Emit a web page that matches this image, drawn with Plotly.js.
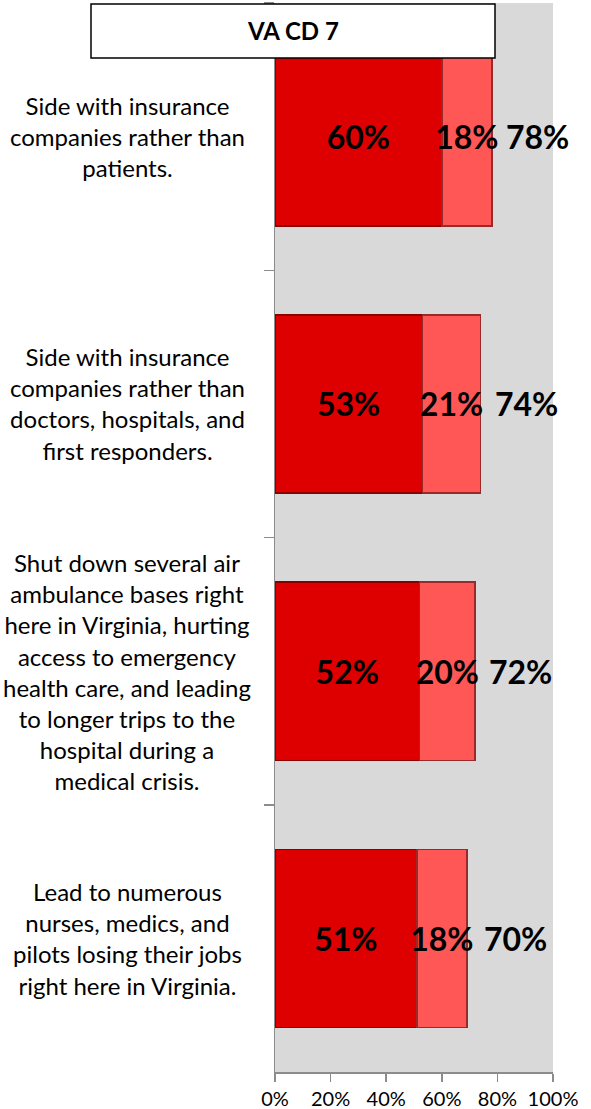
<!DOCTYPE html>
<html><head><meta charset="utf-8">
<script src="https://cdn.plot.ly/plotly-3.0.1.min.js"></script>
<style>html,body{margin:0;padding:0;background:#fff;overflow:hidden}#chart{width:591px;height:1109px}</style>
</head><body><div id="chart"></div>
<script>
const categories = [
  "Side with insurance<br>companies rather than<br>patients.",
  "Side with insurance<br>companies rather than<br>doctors, hospitals, and<br>first responders.",
  "Shut down several air<br>ambulance bases right<br>here in Virginia, hurting<br>access to emergency<br>health care, and leading<br>to longer trips to the<br>hospital during a<br>medical crisis.",
  "Lead to numerous<br>nurses, medics, and<br>pilots losing their jobs<br>right here in Virginia."
];
const strongly = [60, 53, 52, 51];
const somewhat = [18, 21, 20, 18];
const totals = [78, 74, 72, 70];
const xTickVals = [0, 20, 40, 60, 80, 100];
const chartTitle = "VA CD 7";

const FONT = "Lato, 'Open Sans', sans-serif";
const W = 591, H = 1109;
const M = {l: 275, r: 38, t: 3, b: 37};
const pw = W - M.l - M.r, ph = H - M.t - M.b;
const px2x = p => (p - M.l) / pw;
const py2y = p => (H - M.b - p) / ph;

const labelFont = {family: FONT, size: 32, color: '#000', weight: 'bold'};

const traces = [
  {
    type: 'bar', orientation: 'h', y: categories, x: strongly,
    marker: {color: '#DE0000', line: {color: '#8A0000', width: 1.5}},
    text: strongly.map(v => v + '%'), textposition: 'inside', insidetextanchor: 'middle', textangle: 0,
    textfont: labelFont, constraintext: 'none', cliponaxis: false, hoverinfo: 'skip'
  },
  {
    type: 'bar', orientation: 'h', y: categories, x: somewhat,
    marker: {color: '#FF5656', line: {color: '#9A2A2A', width: 1.5}},
    text: somewhat.map(v => v + '%'), textposition: 'inside', insidetextanchor: 'middle', textangle: 0,
    textfont: labelFont, constraintext: 'none', cliponaxis: false, hoverinfo: 'skip'
  }
];

const annotations = [];
categories.forEach((c, i) => {
  annotations.push({
    x: totals[i], y: c, xref: 'x', yref: 'y', text: totals[i] + '%',
    xanchor: 'left', yanchor: 'middle', xshift: 12, showarrow: false, font: labelFont
  });
  annotations.push({
    x: px2x(127), y: c, xref: 'paper', yref: 'y', text: c, align: 'center',
    xanchor: 'center', yanchor: 'middle', showarrow: false,
    font: {family: FONT, size: 24, color: '#000'}
  });
});
annotations.push({
  x: px2x(293), y: py2y(31), xref: 'paper', yref: 'paper', text: chartTitle,
  xanchor: 'center', yanchor: 'middle', showarrow: false,
  font: {family: FONT, size: 24, color: '#000', weight: 'bold'}
});

const layout = {
  width: W, height: H, margin: M,
  paper_bgcolor: '#fff', plot_bgcolor: '#D9D9D9',
  barmode: 'stack', bargap: 0.333, showlegend: false, hovermode: false,
  font: {family: FONT, color: '#000'},
  xaxis: {
    range: [0, 100], tickvals: xTickVals, ticktext: xTickVals.map(v => v + '%'),
    ticks: 'outside', ticklen: 8, tickcolor: '#8C8C8C', tickwidth: 1.5,
    showline: true, linecolor: '#8C8C8C', linewidth: 1.5, showgrid: false, zeroline: false,
    tickfont: {family: FONT, size: 20, color: '#000'}
  },
  yaxis: {
    type: 'category', autorange: 'reversed', showticklabels: false,
    ticks: 'outside', ticklen: 10, tickcolor: '#8C8C8C', tickwidth: 1.5, tickson: 'boundaries',
    showline: true, linecolor: '#8C8C8C', linewidth: 1.5, showgrid: false, zeroline: false
  },
  shapes: [{
    type: 'rect', xref: 'paper', yref: 'paper', layer: 'above',
    x0: px2x(91), x1: px2x(495), y0: py2y(58), y1: py2y(4),
    fillcolor: '#fff', line: {color: '#000', width: 1.5}
  }],
  annotations: annotations
};

Plotly.newPlot('chart', traces, layout, {displayModeBar: false, staticPlot: true});
</script></body></html>
